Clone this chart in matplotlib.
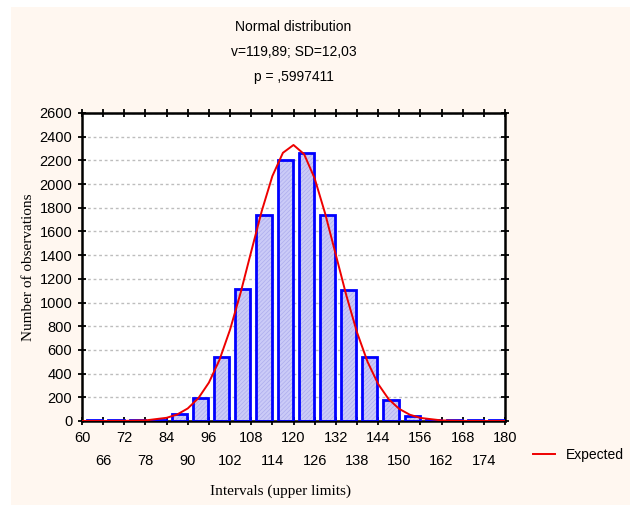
import matplotlib
matplotlib.use('Agg')
import matplotlib.pyplot as plt
from matplotlib.patches import Rectangle

# histogram bins (lower limits) and counts
bin_lo = [60, 66, 72, 78, 84, 90, 96, 102, 108, 114, 120, 126, 132, 138, 144, 150, 156, 162, 168, 174]
counts = [6, 6, 6, 6, 58, 195, 539, 1118, 1738, 2202, 2262, 1738, 1103, 539, 176, 40, 6, 6, 6, 6]

# expected (normal) curve
exp_x = [60, 66, 72, 78, 84, 87, 90, 93, 96, 99, 102, 105, 108, 111, 114, 117, 120,
         123, 126, 129, 132, 135, 138, 141, 144, 147, 150, 153, 156, 162, 168, 174, 180]
exp_y = [0, 0, 1, 5, 27, 55, 106, 192, 324, 516, 771, 1083, 1430, 1773, 2067, 2264, 2330,
         2253, 2048, 1749, 1404, 1059, 750, 500, 313, 184, 102, 53, 26, 5, 1, 0, 0]

xticks_row1 = list(range(60, 181, 12))
xticks_row2 = list(range(66, 175, 12))
yticks = list(range(0, 2601, 200))

W, H = 630, 505
fig = plt.figure(figsize=(W / 100, H / 100), dpi=100)
fig.patch.set_facecolor('white')
fig.patches.append(Rectangle((11 / W, 0), 1 - 11 / W, 1 - 7 / H, transform=fig.transFigure,
                             facecolor='#fff7f0', edgecolor='none', zorder=-10))

ax = fig.add_axes([82 / W, 1 - 421 / H, (505 - 82) / W, (421 - 113) / H])
ax.set_facecolor('white')

plt.rcParams['hatch.linewidth'] = 0.5
lefts = [b + 1.5 for b in bin_lo]
ax.bar(lefts, counts, width=4.3, align='edge', color='#cbcbf7', edgecolor='#adadee',
       hatch='////////', linewidth=0, zorder=2)
ax.bar(lefts, counts, width=4.3, align='edge', fill=False, edgecolor='#0000ff',
       linewidth=2, zorder=3)
line, = ax.plot(exp_x, exp_y, color='#ee0000', linewidth=1.4, zorder=4)

ax.set_xlim(60, 180)
ax.set_ylim(0, 2600)
ax.set_xticks(xticks_row1)
ax.set_xticklabels([str(v) for v in xticks_row1], fontsize=10.5, fontfamily='Liberation Sans')
ax.set_xticks(xticks_row2, minor=True)
ax.set_xticklabels([str(v) for v in xticks_row2], minor=True, fontsize=10.5,
                   fontfamily='Liberation Sans')
ax.set_yticks(yticks)
ax.set_yticklabels([str(v) for v in yticks], fontsize=10.5, fontfamily='Liberation Sans')
ax.yaxis.grid(True, linestyle=(0, (2, 2)), color='#bdbdbd', linewidth=1, zorder=1)
ax.set_axisbelow(True)

for s in ax.spines.values():
    s.set_linewidth(1.8)
ax.tick_params(axis='x', which='both', direction='inout', length=6, width=1.3, top=True)
ax.tick_params(axis='x', which='major', pad=4)
ax.tick_params(axis='x', which='minor', pad=21)
ax.tick_params(axis='y', which='both', direction='inout', length=6, width=1.3, right=True, pad=4)
ax.tick_params(axis='both', which='both', colors='black')

cx = (82 + 505) / 2 / W
tk = dict(ha='center', va='center', fontsize=10, fontfamily='Liberation Sans')
fig.text(cx, 1 - 27 / H, 'Normal distribution', **tk)
fig.text(cx, 1 - 52 / H, 'v=119,89; SD=12,03', **tk)
fig.text(cx, 1 - 77 / H, 'p = ,5997411', **tk)

fig.text(280 / W, 1 - 491 / H, 'Intervals (upper limits)', ha='center', va='center',
         fontsize=11, fontfamily='Liberation Serif')
fig.text(29 / W, 1 - 267 / H, 'Number of observations', ha='center', va='center',
         rotation=90, fontsize=11, fontfamily='Liberation Serif')

fig.legend([line], ['Expected'], loc='center left', bbox_to_anchor=(533 / W, 1 - 455 / H),
           frameon=False, handlelength=1.6, handletextpad=0.8, borderpad=0, borderaxespad=0,
           prop={'family': 'Liberation Sans', 'size': 10})

fig.savefig('out.png', dpi=100)
